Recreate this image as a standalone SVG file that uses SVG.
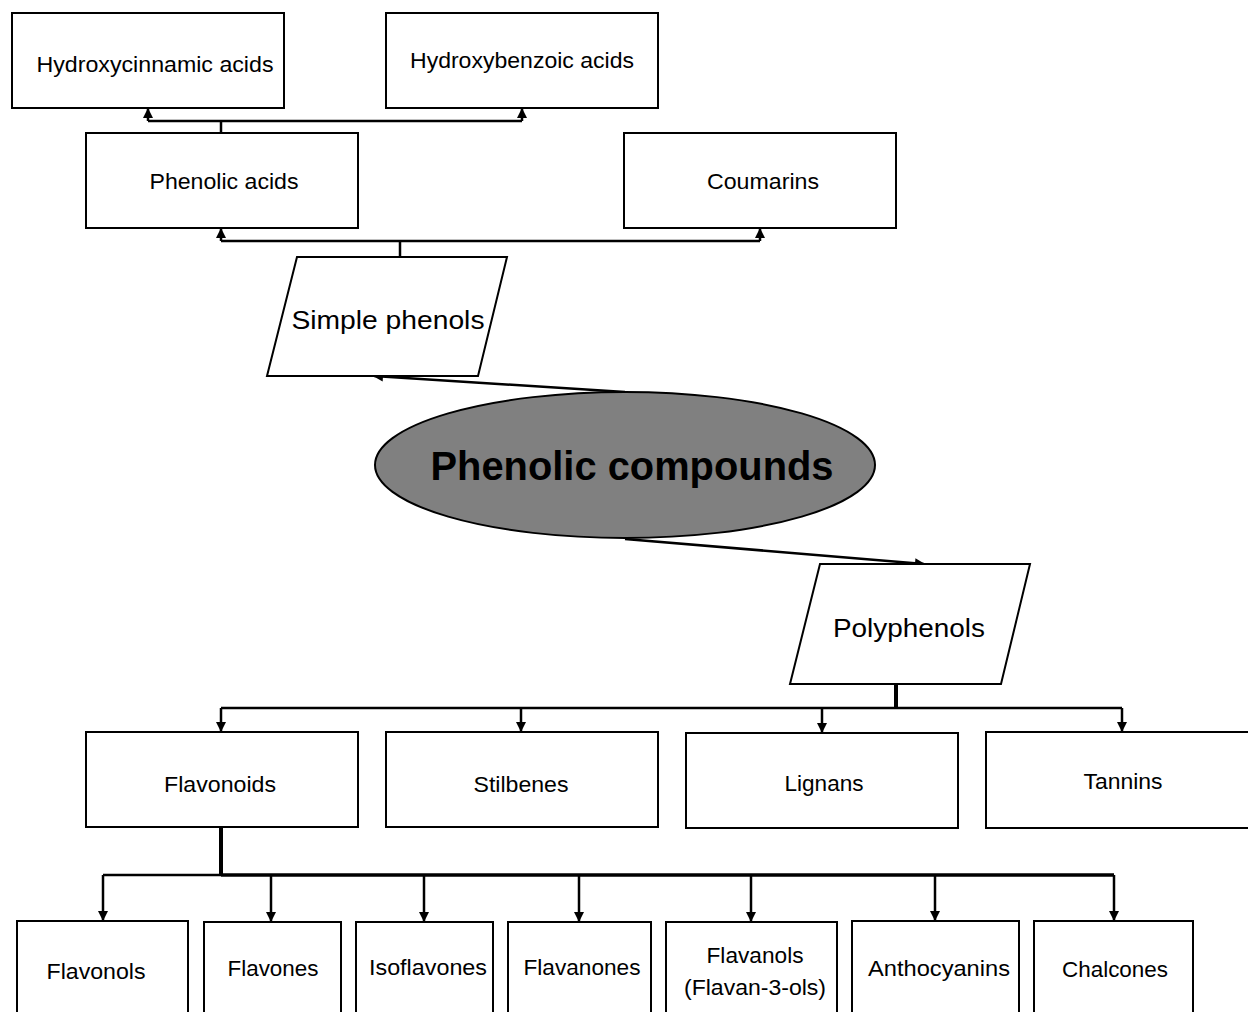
<svg xmlns="http://www.w3.org/2000/svg" width="1248" height="1012" viewBox="0 0 1248 1012">
<defs>
<style>
.box{fill:#fff;stroke:#000;stroke-width:2}
.lbl{font-family:"Liberation Sans",Arial,sans-serif;font-size:22px;fill:#000;text-anchor:middle}
.big{font-size:26px}
.title{font-family:"Liberation Sans",Arial,sans-serif;font-size:40px;font-weight:bold;fill:#000;text-anchor:middle}
.con{fill:none;stroke:#000;stroke-width:2.5}
.trunk{fill:none;stroke:#000;stroke-width:4}
</style>
<marker id="ah" viewBox="0 0 10 10" refX="9" refY="5" markerWidth="4" markerHeight="5" orient="auto" markerUnits="strokeWidth">
<path d="M0,0 L10,5 L0,10 z" fill="#000"/>
</marker>
</defs>
<rect width="1248" height="1012" fill="#fff"/>

<g id="connectors">
<path class="con" d="M221,133 V121"/>
<path class="con" d="M148,121 H522"/>
<path class="con" d="M148,121 V109" marker-end="url(#ah)"/>
<path class="con" d="M522,121 V109" marker-end="url(#ah)"/>
<path class="con" d="M400,257 V241"/>
<path class="con" d="M221,241 H760"/>
<path class="con" d="M221,241 V229" marker-end="url(#ah)"/>
<path class="con" d="M760,241 V229" marker-end="url(#ah)"/>
<path class="con" d="M625,392 L374,376" marker-end="url(#ah)"/>
<path class="con" d="M625,539 L924,564" marker-end="url(#ah)"/>
<path class="trunk" d="M896,684 V708"/>
<path class="con" d="M221,708 H1122"/>
<path class="con" d="M221,708 V731" marker-end="url(#ah)"/>
<path class="con" d="M521,708 V731" marker-end="url(#ah)"/>
<path class="con" d="M822,708 V732" marker-end="url(#ah)"/>
<path class="con" d="M1122,708 V731" marker-end="url(#ah)"/>
<path class="trunk" d="M221,827 V875"/>
<path class="con" d="M103,875 H221"/>
<path class="con" d="M221,875 H1114" style="stroke-width:3.5"/>
<path class="con" d="M103,875 V920" marker-end="url(#ah)"/>
<path class="con" d="M271,875 V921" marker-end="url(#ah)"/>
<path class="con" d="M424,875 V921" marker-end="url(#ah)"/>
<path class="con" d="M579,875 V921" marker-end="url(#ah)"/>
<path class="con" d="M751,875 V921" marker-end="url(#ah)"/>
<path class="con" d="M935,875 V920" marker-end="url(#ah)"/>
<path class="con" d="M1114,875 V920" marker-end="url(#ah)"/>
</g>

<g id="hydroxycinnamic"><rect class="box" x="12" y="13" width="272" height="95"/><text class="lbl" x="155" y="72" textLength="237" lengthAdjust="spacingAndGlyphs">Hydroxycinnamic acids</text></g>
<g id="hydroxybenzoic"><rect class="box" x="386" y="13" width="272" height="95"/><text class="lbl" x="522" y="68" textLength="224" lengthAdjust="spacingAndGlyphs">Hydroxybenzoic acids</text></g>
<g id="phenolic-acids"><rect class="box" x="86" y="133" width="272" height="95"/><text class="lbl" x="224" y="189" textLength="149" lengthAdjust="spacingAndGlyphs">Phenolic acids</text></g>
<g id="coumarins"><rect class="box" x="624" y="133" width="272" height="95"/><text class="lbl" x="763" y="189" textLength="112" lengthAdjust="spacingAndGlyphs">Coumarins</text></g>
<g id="simple-phenols"><polygon class="box" points="297,257 507,257 478,376 267,376"/><text class="lbl big" x="388" y="329" textLength="193" lengthAdjust="spacingAndGlyphs">Simple phenols</text></g>
<g id="phenolic-compounds"><ellipse cx="625" cy="465" rx="250" ry="73" fill="#808080" stroke="#000" stroke-width="2"/><text class="title" x="632" y="480" textLength="403" lengthAdjust="spacingAndGlyphs">Phenolic compounds</text></g>
<g id="polyphenols"><polygon class="box" points="820,564 1030,564 1001,684 790,684"/><text class="lbl big" x="909" y="637" textLength="152" lengthAdjust="spacingAndGlyphs">Polyphenols</text></g>
<g id="flavonoids"><rect class="box" x="86" y="732" width="272" height="95"/><text class="lbl" x="220" y="792" textLength="112" lengthAdjust="spacingAndGlyphs">Flavonoids</text></g>
<g id="stilbenes"><rect class="box" x="386" y="732" width="272" height="95"/><text class="lbl" x="521" y="792" textLength="95" lengthAdjust="spacingAndGlyphs">Stilbenes</text></g>
<g id="lignans"><rect class="box" x="686" y="733" width="272" height="95"/><text class="lbl" x="824" y="791" textLength="79" lengthAdjust="spacingAndGlyphs">Lignans</text></g>
<g id="tannins"><rect class="box" x="986" y="732" width="272" height="96"/><text class="lbl" x="1123" y="789" textLength="79" lengthAdjust="spacingAndGlyphs">Tannins</text></g>
<g id="flavonols"><rect class="box" x="17" y="921" width="171" height="100"/><text class="lbl" x="96" y="979" textLength="99" lengthAdjust="spacingAndGlyphs">Flavonols</text></g>
<g id="flavones"><rect class="box" x="204" y="922" width="137" height="100"/><text class="lbl" x="273" y="976" textLength="91" lengthAdjust="spacingAndGlyphs">Flavones</text></g>
<g id="isoflavones"><rect class="box" x="356" y="922" width="137" height="100"/><text class="lbl" x="428" y="975" textLength="118" lengthAdjust="spacingAndGlyphs">Isoflavones</text></g>
<g id="flavanones"><rect class="box" x="508" y="922" width="143" height="100"/><text class="lbl" x="582" y="975" textLength="117" lengthAdjust="spacingAndGlyphs">Flavanones</text></g>
<g id="flavanols"><rect class="box" x="666" y="922" width="171" height="100"/><text class="lbl" x="755" y="963" textLength="97" lengthAdjust="spacingAndGlyphs">Flavanols</text><text class="lbl" x="755" y="995" textLength="142" lengthAdjust="spacingAndGlyphs">(Flavan-3-ols)</text></g>
<g id="anthocyanins"><rect class="box" x="852" y="921" width="167" height="100"/><text class="lbl" x="939" y="976" textLength="142" lengthAdjust="spacingAndGlyphs">Anthocyanins</text></g>
<g id="chalcones"><rect class="box" x="1034" y="921" width="159" height="100"/><text class="lbl" x="1115" y="977" textLength="106" lengthAdjust="spacingAndGlyphs">Chalcones</text></g>
</svg>
